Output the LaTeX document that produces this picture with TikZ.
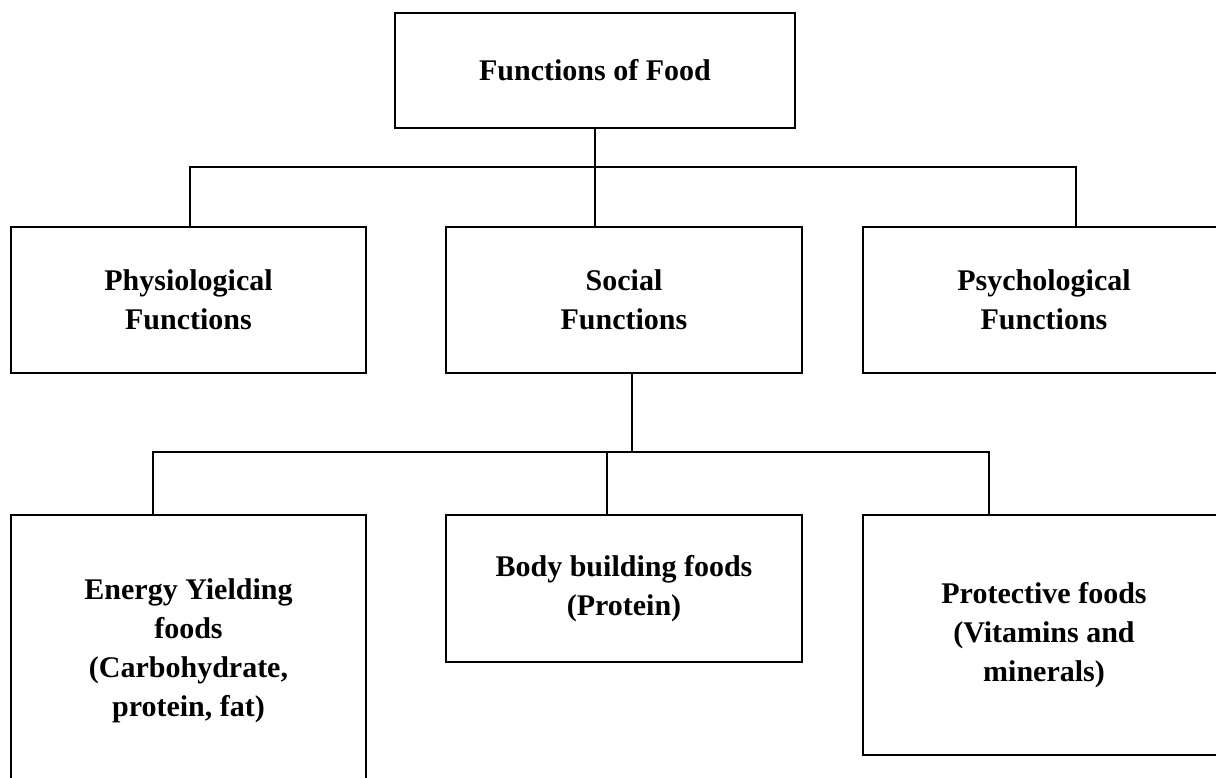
\documentclass[tikz,border=0pt]{standalone}
\usepackage{fontspec}
\setmainfont{Liberation Serif}
\begin{document}
\begin{tikzpicture}[x=1pt,y=-1pt,
  box/.style={rectangle, draw=black, line width=2.6pt, align=center, inner sep=0pt,
    font=\bfseries\fontsize{30}{39}\selectfont},
  link/.style={draw=black, line width=2.3pt}]
\useasboundingbox (0,0) rectangle (1216,778);
\clip (0,0) rectangle (1216,778);
% top level
\node [box, minimum width=400, minimum height=115] (food) at (595,70.5) {Functions of Food};
% second level
\node [box, minimum width=355, minimum height=146] (physio) at (188.5,300) {Physiological\\Functions};
\node [box, minimum width=356, minimum height=146] (social) at (624,300) {Social\\Functions};
\node [box, minimum width=362, minimum height=146] (psycho) at (1044,300) {Psychological\\Functions};
% third level
\node [box, minimum width=355, minimum height=272] (energy) at (188.5,651) {Energy Yielding\\foods\\(Carbohydrate,\\protein, fat)};
\node [box, minimum width=356, minimum height=147] (body) at (624,588.5) {Body building foods\\(Protein)};
\node [box, minimum width=362, minimum height=240] (protect) at (1044,635) {Protective foods\\(Vitamins and\\minerals)};
% upper bus
\coordinate (bus1) at (595.7,166.7);
\coordinate (psytop) at ([xshift=31.7]psycho.north);
\draw [link] (food.south) -- (food.south |- social.north);
\draw [link] ([xshift=1.5]physio.north) -- ([xshift=1.5]physio.north |- bus1) -- (psytop |- bus1) -- (psytop);
% lower bus
\coordinate (bus2) at (632,452);
\coordinate (soclow) at ([xshift=8]social.south);
\coordinate (entop) at ([xshift=-35.5]energy.north);
\coordinate (bodytop) at ([xshift=-17]body.north);
\coordinate (prtop) at ([xshift=-55]protect.north);
\draw [link] (soclow) -- (soclow |- bus2);
\draw [link] (entop) -- (entop |- bus2) -- (prtop |- bus2) -- (prtop);
\draw [link] (bodytop |- bus2) -- (bodytop);
\end{tikzpicture}
\end{document}
